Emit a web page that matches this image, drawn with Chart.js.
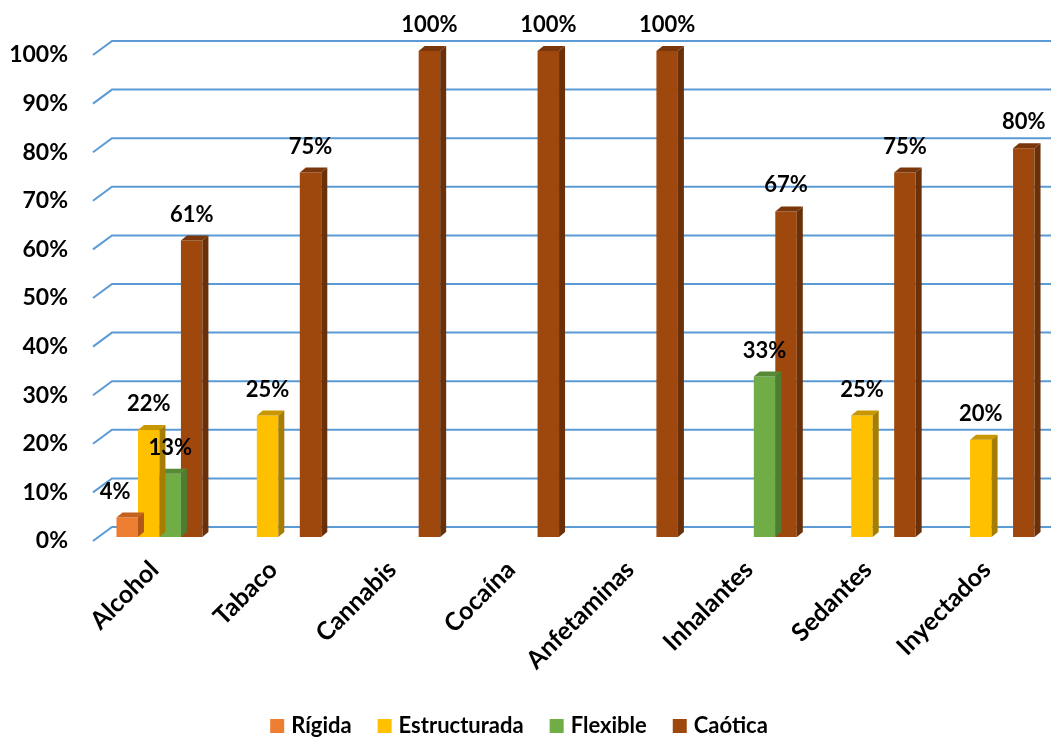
<!DOCTYPE html>
<html lang="es">
<head>
<meta charset="UTF-8" />
<title>Tipo de familia por sustancia</title>
<script src="https://cdn.jsdelivr.net/npm/chart.js@4"></script>
<style>
  html, body { margin: 0; padding: 0; background: #ffffff; }
  #wrap { width: 1051px; height: 738px; }
</style>
</head>
<body>
<div id="wrap"><canvas id="chart" width="1051" height="738"></canvas></div>
<script>
  const categories = ["Alcohol", "Tabaco", "Cannabis", "Cocaína", "Anfetaminas", "Inhalantes", "Sedantes", "Inyectados"];
  const rigida = [4, null, null, null, null, null, null, null];
  const estructurada = [22, 25, null, null, null, null, 25, 20];
  const flexible = [13, null, null, null, null, 33, null, null];
  const caotica = [61, 75, 100, 100, 100, 67, 75, 80];
  const seriesNames = ["Rígida", "Estructurada", "Flexible", "Caótica"];

  const FONT = "Lato, 'Liberation Sans', sans-serif";
  const dx = 6, dy = 5;      // 3d depth of the bars
  const barLift = 4;         // bars sit a bit above the tick tips
  const wallShift = 14;      // back wall grid offset

  const bar3d = {
    id: "bar3d",
    beforeDatasetsDraw(chart) {
      const { ctx, chartArea, scales: { y } } = chart;
      ctx.save();
      ctx.strokeStyle = "#5B9BD5";
      ctx.lineWidth = 2;
      y.ticks.forEach((t) => {
        const py = y.getPixelForValue(t.value);
        ctx.beginPath();
        ctx.moveTo(chartArea.left - 7, py);
        ctx.lineTo(chartArea.left + 12, py - wallShift);
        ctx.lineTo(chartArea.right, py - wallShift);
        ctx.stroke();
      });
      ctx.restore();
      ctx.save();
      ctx.translate(0, -barLift);
    },
    afterDatasetDraw(chart, args) {
      const ds = chart.data.datasets[args.index];
      const ctx = chart.ctx;
      args.meta.data.forEach((bar, i) => {
        if (ds.data[i] == null) return;
        const { x, y, width, base } = bar.getProps(["x", "y", "width", "base"], true);
        const l = x - width / 2, r = x + width / 2;
        ctx.fillStyle = ds.topColor;
        ctx.beginPath();
        ctx.moveTo(l, y);
        ctx.lineTo(l + dx, y - dy);
        ctx.lineTo(r + dx, y - dy);
        ctx.lineTo(r, y);
        ctx.closePath();
        ctx.fill();
        ctx.fillStyle = ds.sideColor;
        ctx.beginPath();
        ctx.moveTo(r, y);
        ctx.lineTo(r + dx, y - dy);
        ctx.lineTo(r + dx, base - dy);
        ctx.lineTo(r, base);
        ctx.closePath();
        ctx.fill();
      });
    },
    afterDatasetsDraw(chart) {
      const ctx = chart.ctx;
      ctx.restore();
      ctx.save();
      ctx.font = "bold 22px " + FONT;
      ctx.fillStyle = "#000";
      ctx.textAlign = "center";
      ctx.textBaseline = "middle";
      chart.data.datasets.forEach((ds, di) => {
        chart.getDatasetMeta(di).data.forEach((bar, i) => {
          if (ds.data[i] == null) return;
          // the lone 4% label sits a little to the left, as in the original
          const shift = di === 0 ? -12 : 0;
          ctx.fillText(ds.data[i] + "%", bar.x + shift, bar.y - barLift - 26);
        });
      });
      ctx.restore();
    },
    afterDraw(chart) {
      const ctx = chart.ctx;
      ctx.save();
      ctx.font = "bold 22px " + FONT;
      ctx.textBaseline = "middle";
      ctx.textAlign = "left";
      const box = 14, gap = 7, spacing = 26;
      const items = chart.data.datasets.map((ds) => ({ text: ds.label, color: ds.backgroundColor, w: ctx.measureText(ds.label).width }));
      const total = items.reduce((s, it) => s + box + gap + it.w, 0) + spacing * (items.length - 1);
      let x = 519 - total / 2;
      const cy = 726;
      items.forEach((it) => {
        ctx.fillStyle = it.color;
        ctx.fillRect(x, cy - box / 2, box, box);
        ctx.fillStyle = "#000";
        ctx.fillText(it.text, x + box + gap, cy);
        x += box + gap + it.w + spacing;
      });
      ctx.restore();
    }
  };

  const colors = ["#ED7D31", "#FFC000", "#70AD47", "#9E480E"];
  const tops = ["#C5611F", "#C99700", "#568A35", "#7A370B"];
  const sides = ["#B0561B", "#A67D00", "#4E7D31", "#6A300A"];
  const values = [rigida, estructurada, flexible, caotica];

  new Chart(document.getElementById("chart"), {
    type: "bar",
    data: {
      labels: categories,
      datasets: values.map((v, i) => ({
        label: seriesNames[i],
        data: v,
        backgroundColor: colors[i],
        topColor: tops[i],
        sideColor: sides[i],
        clip: false,
        categoryPercentage: 0.723,
        barPercentage: 1
      }))
    },
    options: {
      responsive: false,
      animation: false,
      devicePixelRatio: 1,
      layout: { padding: { top: 55, left: 0, right: 0, bottom: 47 } },
      plugins: { legend: { display: false }, tooltip: { enabled: false } },
      scales: {
        x: {
          grid: { display: false, drawTicks: false },
          border: { display: false },
          ticks: {
            autoSkip: false,
            maxRotation: 45,
            minRotation: 45,
            padding: 14,
            labelOffset: -5,
            color: "#000",
            font: { family: FONT, size: 25, weight: "bold" }
          },
          afterFit(scale) { scale.height = 150; }
        },
        y: {
          min: 0,
          max: 100,
          grid: { display: false, drawTicks: false },
          border: { display: false },
          ticks: {
            stepSize: 10,
            padding: 32,
            color: "#000",
            font: { family: FONT, size: 23, weight: "bold" },
            callback: (v) => v + "%"
          },
          afterFit(scale) { scale.width = 100; }
        }
      }
    },
    plugins: [bar3d]
  });
</script>
</body>
</html>
